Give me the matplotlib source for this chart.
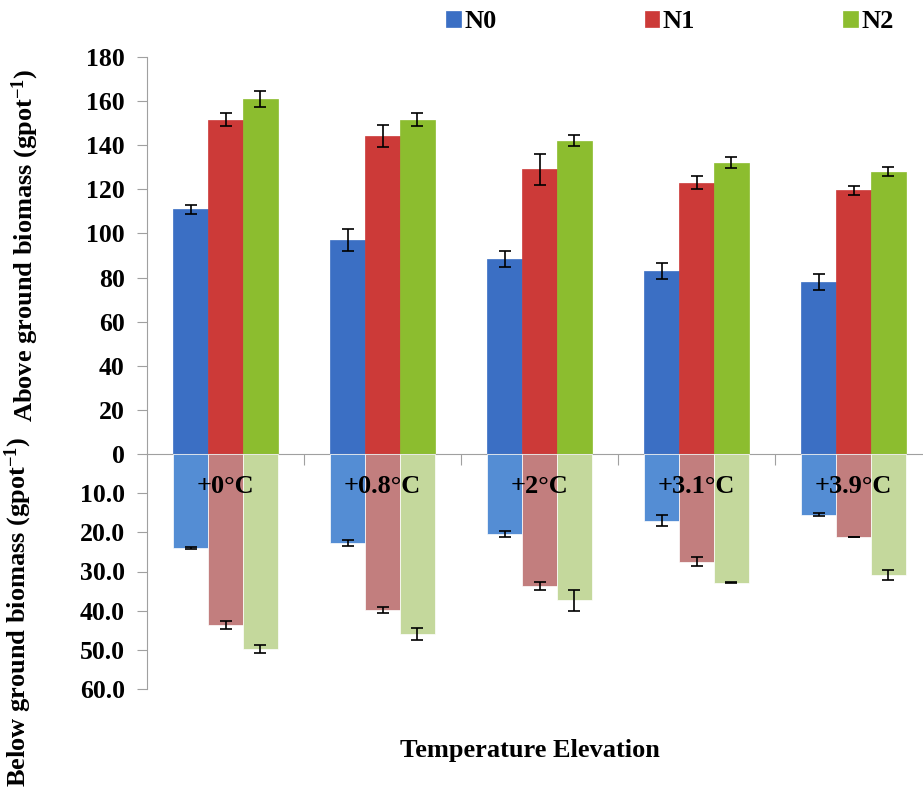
import matplotlib
matplotlib.use("Agg")
import matplotlib.pyplot as plt
import numpy as np

categories = ["+0\u00b0C", "+0.8\u00b0C", "+2\u00b0C", "+3.1\u00b0C", "+3.9\u00b0C"]
series = ["N0", "N1", "N2"]

above_N0 = [111, 97, 88.5, 83, 78]
above_N1 = [151.5, 144, 129, 123, 119.5]
above_N2 = [161, 151.5, 142, 132, 128]
above_err_N0 = [2, 5, 3.5, 3.5, 3.5]
above_err_N1 = [3, 5, 7, 3, 2]
above_err_N2 = [3.5, 3, 2.5, 2.5, 2]

below_N0 = [24, 22.7, 20.4, 17, 15.5]
below_N1 = [43.6, 39.8, 33.7, 27.5, 21.2]
below_N2 = [49.7, 45.9, 37.4, 32.9, 30.9]
below_err_N0 = [0.3, 0.7, 0.8, 1.3, 0.4]
below_err_N1 = [1.0, 0.7, 1.0, 1.2, 0.1]
below_err_N2 = [1.0, 1.5, 2.8, 0.1, 1.3]

upper_colors = ["#3b6fc4", "#cc3a38", "#8cbd2f"]
lower_colors = ["#548dd4", "#c27e7e", "#c4d89c"]

plt.rcParams['font.family'] = ['Liberation Serif', 'DejaVu Serif']
plt.rcParams['font.weight'] = 'bold'
plt.rcParams['mathtext.fontset'] = 'custom'
plt.rcParams['mathtext.rm'] = 'Liberation Serif:bold'
plt.rcParams['mathtext.default'] = 'regular'

fig = plt.figure(figsize=(9.23, 7.97), dpi=100)
W, H = 923, 797
left, right = 147 / W, 932 / W
y0 = 454
ax_up = fig.add_axes([left, 1 - y0 / H, right - left, (y0 - 57) / H])
ax_lo = fig.add_axes([left, 1 - 689 / H, right - left, (689 - y0) / H])

x = np.arange(len(categories))
bw = 0.221
above = [above_N0, above_N1, above_N2]
above_err = [above_err_N0, above_err_N1, above_err_N2]
below = [below_N0, below_N1, below_N2]
below_err = [below_err_N0, below_err_N1, below_err_N2]

handles = []
for i in range(3):
    off = (i - 1) * bw
    b = ax_up.bar(x + off, above[i], bw, color=upper_colors[i],
                  edgecolor=upper_colors[i], linewidth=0.5, label=series[i], zorder=2)
    handles.append(b)
    ax_up.errorbar(x + off, above[i], yerr=above_err[i], fmt='none', ecolor='black',
                   elinewidth=1.2, capsize=4.5, capthick=1.2, zorder=3)
    ax_lo.bar(x + off, below[i], bw, color=lower_colors[i], edgecolor='white',
              linewidth=0.5, zorder=2)
    ax_lo.errorbar(x + off, below[i], yerr=below_err[i], fmt='none', ecolor='black',
                   elinewidth=1.2, capsize=4.5, capthick=1.2, zorder=3)

for ax in (ax_up, ax_lo):
    ax.set_xlim(-0.5, len(categories) - 0.5)
    ax.patch.set_alpha(0)
    for s in ['top', 'right']:
        ax.spines[s].set_visible(False)
    ax.spines['left'].set_color('#a0a0a0')
    ax.tick_params(axis='y', direction='out', length=7, color='#a0a0a0',
                   labelsize=18.5, pad=9)

ax_up.set_ylim(0, 180)
ax_up.set_yticks(np.arange(0, 181, 20))
ax_up.spines['bottom'].set_color('#a0a0a0')
ax_up.set_xticks(np.arange(0.5, len(categories) - 0.5, 1))
ax_up.set_xticklabels([])
ax_up.tick_params(axis='x', direction='out', length=8, color='#a0a0a0')
for lab in ax_up.get_yticklabels():
    lab.set_fontweight('bold')

ax_lo.set_ylim(60, 0)
ax_lo.set_yticks(np.arange(10, 61, 10))
ax_lo.set_yticklabels([f"{v:.1f}" for v in np.arange(10, 61, 10)])
ax_lo.spines['bottom'].set_visible(False)
ax_lo.set_xticks([])
for lab in ax_lo.get_yticklabels():
    lab.set_fontweight('bold')

for xi, c in zip(x, categories):
    ax_lo.text(xi, 8.3, c, ha='center', va='center', fontsize=19,
               fontweight='bold', zorder=5)

fig.text(25 / W, 1 - 245 / H, "Above ground biomass (gpot$^{-1}$)",
         rotation=90, ha='center', va='center', fontsize=19, fontweight='bold')
fig.text(18 / W, 1 - 612 / H, "Below ground biomass (gpot$^{-1}$)",
         rotation=90, ha='center', va='center', fontsize=19, fontweight='bold')
fig.text(530 / W, 1 - 750 / H, "Temperature Elevation", ha='center', va='center',
         fontsize=19, fontweight='bold')

fig.legend(handles=handles, labels=series, loc='center', ncol=3,
           bbox_to_anchor=(670 / W, 1 - 22 / H), frameon=False,
           handlelength=0.55, handleheight=0.55, columnspacing=5.6, handletextpad=0.15,
           prop={'weight': 'bold', 'size': 19})

fig.savefig("out.png", dpi=100)
